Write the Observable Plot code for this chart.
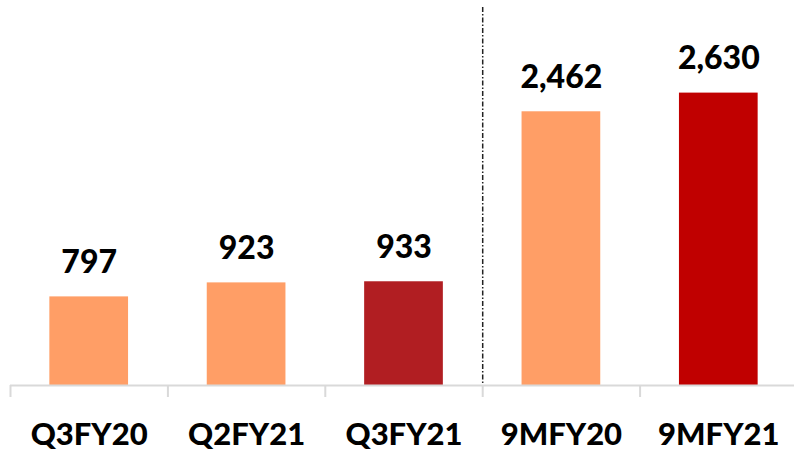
<!DOCTYPE html>
<html>
<head>
<meta charset="utf-8">
<script src="https://cdn.jsdelivr.net/npm/d3@7"></script>
<script src="https://cdn.jsdelivr.net/npm/@observablehq/plot@0.6"></script>
<style>
  html, body { margin: 0; padding: 0; background: #fff; }
  #chart svg { display: block; }
</style>
</head>
<body>
<div id="chart"></div>
<script>
const categories = ["Q3FY20", "Q2FY21", "Q3FY21", "9MFY20", "9MFY21"];
const values = [797, 923, 933, 2462, 2630];
const colors = ["#FF9E66", "#FF9E66", "#B11E22", "#FF9E66", "#C00000"];
const labels = ["797", "923", "933", "2,462", "2,630"];
const dividerAfter = 2; // dashed divider between Q3FY21 and 9MFY20

const data = categories.map((c, i) => ({i, cat: c, value: values[i], color: colors[i], label: labels[i]}));
const idx = categories.map((_, i) => i);
const boundaries = categories.map((_, i) => i - 0.5);

const font = "Lato, 'Open Sans', sans-serif";

const chart = Plot.plot({
  width: 794,
  height: 452,
  marginTop: 7,
  marginBottom: 67,
  marginLeft: 10,
  marginRight: 0,
  style: {fontFamily: font, background: "#fff"},
  x: {domain: [-0.5, categories.length - 0.5], range: [10, 797], label: null},
  y: {domain: [0, 3400], axis: null},
  marks: [
    Plot.rectY(data, {x1: d => d.i - 0.25, x2: d => d.i + 0.25, y1: 0, y2: "value", fill: "color"}),
    Plot.ruleY([0], {stroke: "#D9D9D9", strokeWidth: 2}),
    Plot.axisX({ticks: boundaries, tickSize: 12, tickFormat: () => "", label: null, stroke: "#D9D9D9", strokeWidth: 2, strokeOpacity: 1}),
    Plot.axisX({ticks: idx, tickSize: 0, tickPadding: 37, tickFormat: i => categories[i], label: null, fontSize: 31, fontWeight: 900, fill: "#000"}),
    Plot.ruleX([dividerAfter + 0.5], {stroke: "#222", strokeWidth: 1.5, strokeDasharray: "5,2,1.5,2"}),
    Plot.text(data, {x: "i", y: "value", text: "label", dy: -24, lineAnchor: "bottom", fontSize: 32, fontWeight: 900, fill: "#000"})
  ]
});
document.getElementById("chart").appendChild(chart);
</script>
</body>
</html>
